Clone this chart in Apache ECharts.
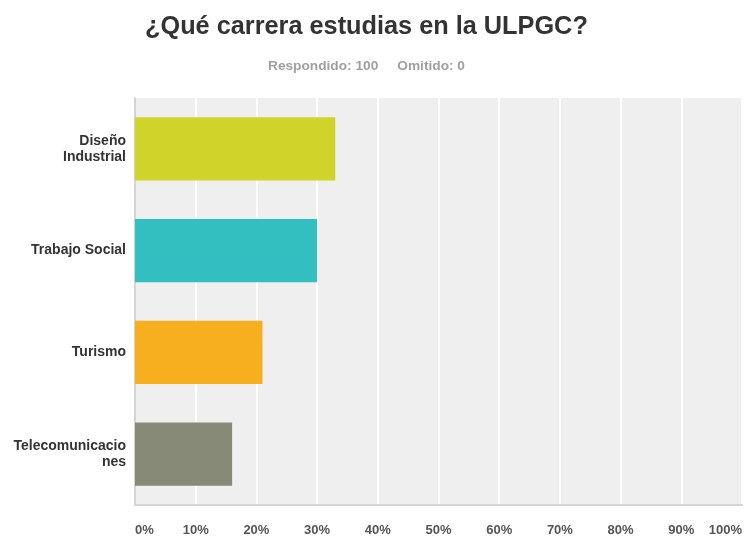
<!DOCTYPE html>
<html>
<head>
<meta charset="utf-8">
<script src="https://cdn.jsdelivr.net/npm/echarts@6/dist/echarts.min.js"></script>
<style>
html,body{margin:0;padding:0;background:#fff;}
#chart{width:745px;height:537px;}
</style>
</head>
<body>
<div id="chart"></div>
<script>
var titleText = '¿Qué carrera estudias en la ULPGC?';
var subtitleText = 'Respondido: 100     Omitido: 0';
var categories = ['Diseño Industrial', 'Trabajo Social', 'Turismo', 'Telecomunicaciones'];
var categoryLabels = ['Diseño\nIndustrial', 'Trabajo Social', 'Turismo', 'Telecomunicacio\nnes'];
var values = [33, 30, 21, 16];
var colors = ['#D0D42A', '#33BEC0', '#F7AF1F', '#888A78'];

var chart = echarts.init(document.getElementById('chart'));
var font = '"Liberation Sans", Arial, sans-serif';
chart.setOption({
  animation: false,
  title: [
    { text: titleText, left: 145, top: 15, padding: 0,
      textStyle: { fontFamily: font, fontSize: 25.3, fontWeight: 'bold', color: '#333' } },
    { text: subtitleText, left: 268, top: 59, padding: 0,
      textStyle: { fontFamily: font, fontSize: 13.7, fontWeight: 'bold', color: '#a0a0a0' } }
  ],
  grid: { left: 135, right: 1, top: 98, bottom: 32, show: true, backgroundColor: '#efefef', borderWidth: 0 },
  xAxis: {
    type: 'value', min: 0, max: 100, interval: 10,
    axisLine: { show: true, lineStyle: { color: '#d4d4d4', width: 2 } },
    axisTick: { show: false },
    splitLine: { show: true, lineStyle: { color: '#ffffff', width: 2 } },
    axisLabel: {
      formatter: '{value}%', margin: 19, alignMinLabel: 'left', alignMaxLabel: 'right',
      fontFamily: font, fontSize: 13, fontWeight: 'bold', color: '#555'
    }
  },
  yAxis: {
    type: 'category', data: categories, inverse: true,
    axisLine: { show: true, lineStyle: { color: '#d4d4d4', width: 2 } },
    axisTick: { show: false },
    axisLabel: {
      margin: 9, fontFamily: font, fontSize: 14, fontWeight: 'bold', color: '#333', lineHeight: 16,
      formatter: function (v, i) { return categoryLabels[i]; }
    }
  },
  series: [{
    type: 'bar', data: values.map(function (v, i) { return { value: v, itemStyle: { color: colors[i] } }; }),
    barWidth: '62%'
  }]
});
</script>
</body>
</html>
